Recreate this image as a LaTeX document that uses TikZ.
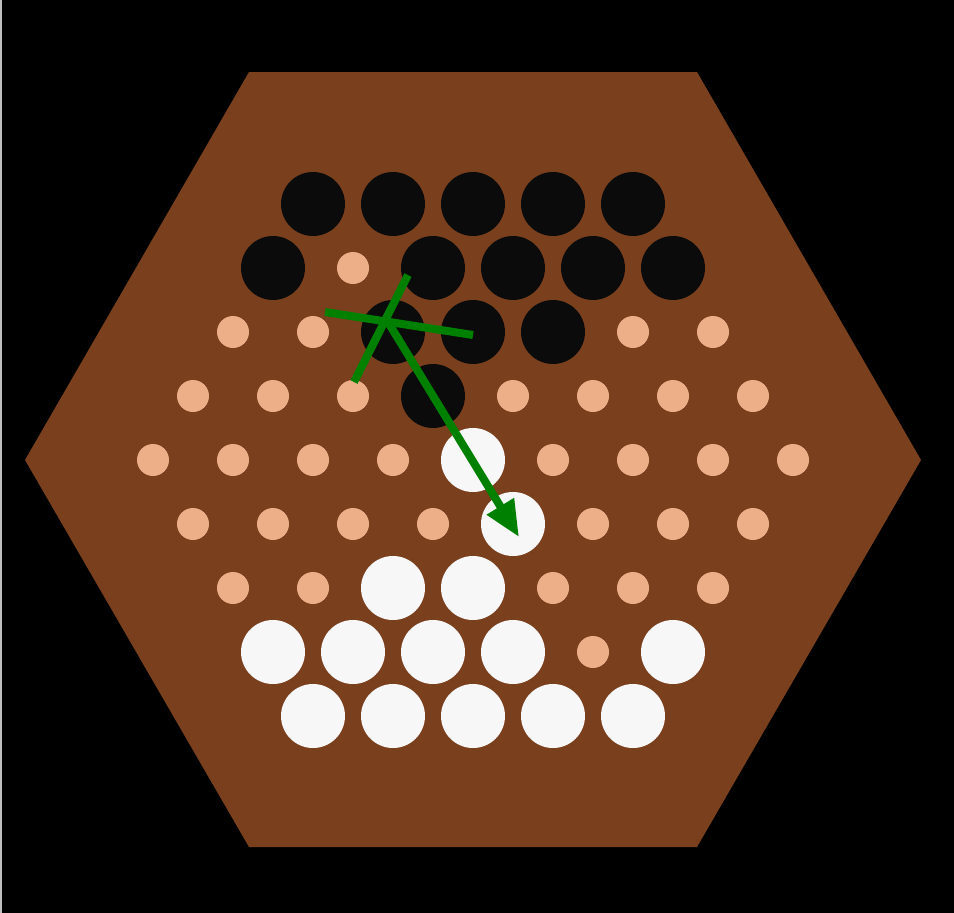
\documentclass[tikz,border=0pt]{standalone}
\usetikzlibrary{arrows.meta}
\definecolor{boardbrown}{RGB}{122,64,30}
\definecolor{holecol}{RGB}{237,175,136}
\definecolor{stoneblack}{RGB}{11,11,11}
\definecolor{stonewhite}{RGB}{247,247,247}
\definecolor{markgreen}{RGB}{0,128,0}
\tikzset{
  pb/.style={circle, fill=stoneblack, minimum size=64pt, inner sep=0pt, draw=none},
  pw/.style={circle, fill=stonewhite, minimum size=64pt, inner sep=0pt, draw=none},
  pe/.style={circle, fill=holecol, minimum size=32pt, inner sep=0pt, draw=none},
  markline/.style={draw=markgreen, line width=8pt},
}
\begin{document}
\begin{tikzpicture}[x=1pt,y=-1pt]
\fill[black] (0,0) rectangle (954,913);
\useasboundingbox (0,0) rectangle (954,913);
\fill[black!25] (0,0) rectangle (2,913);
\fill[boardbrown] (249,72) -- (697,72) -- (921,460) -- (697,847) -- (249,847) -- (25,460) -- cycle;
\foreach \r/\n/\row in {
  0/5/{pb,pb,pb,pb,pb},
  1/6/{pb,pe,pb,pb,pb,pb},
  2/7/{pe,pe,pb,pb,pb,pe,pe},
  3/8/{pe,pe,pe,pb,pe,pe,pe,pe},
  4/9/{pe,pe,pe,pe,pw,pe,pe,pe,pe},
  5/8/{pe,pe,pe,pe,pw,pe,pe,pe},
  6/7/{pe,pe,pw,pw,pe,pe,pe},
  7/6/{pw,pw,pw,pw,pe,pw},
  8/5/{pw,pw,pw,pw,pw}} {
  \foreach \s [count=\i from 0] in \row {
    \node[\s] (c-\r-\i) at ({473-40*(\n-1)+80*\i}, {204+64*\r}) {};
  }
}
\coordinate (xa1) at (325,312);
\coordinate (xa2) at (473,335);
\coordinate (xb1) at (408,275);
\coordinate (xb2) at (354,382);
\coordinate (xc) at (388,322);
\coordinate (tip) at (519,537);
\draw[markline] (xa1) -- (xa2);
\draw[markline] (xb1) -- (xb2);
\draw[markline, -{Triangle[length=36pt,width=30pt]}] (xc) -- (tip);
\end{tikzpicture}
\end{document}
